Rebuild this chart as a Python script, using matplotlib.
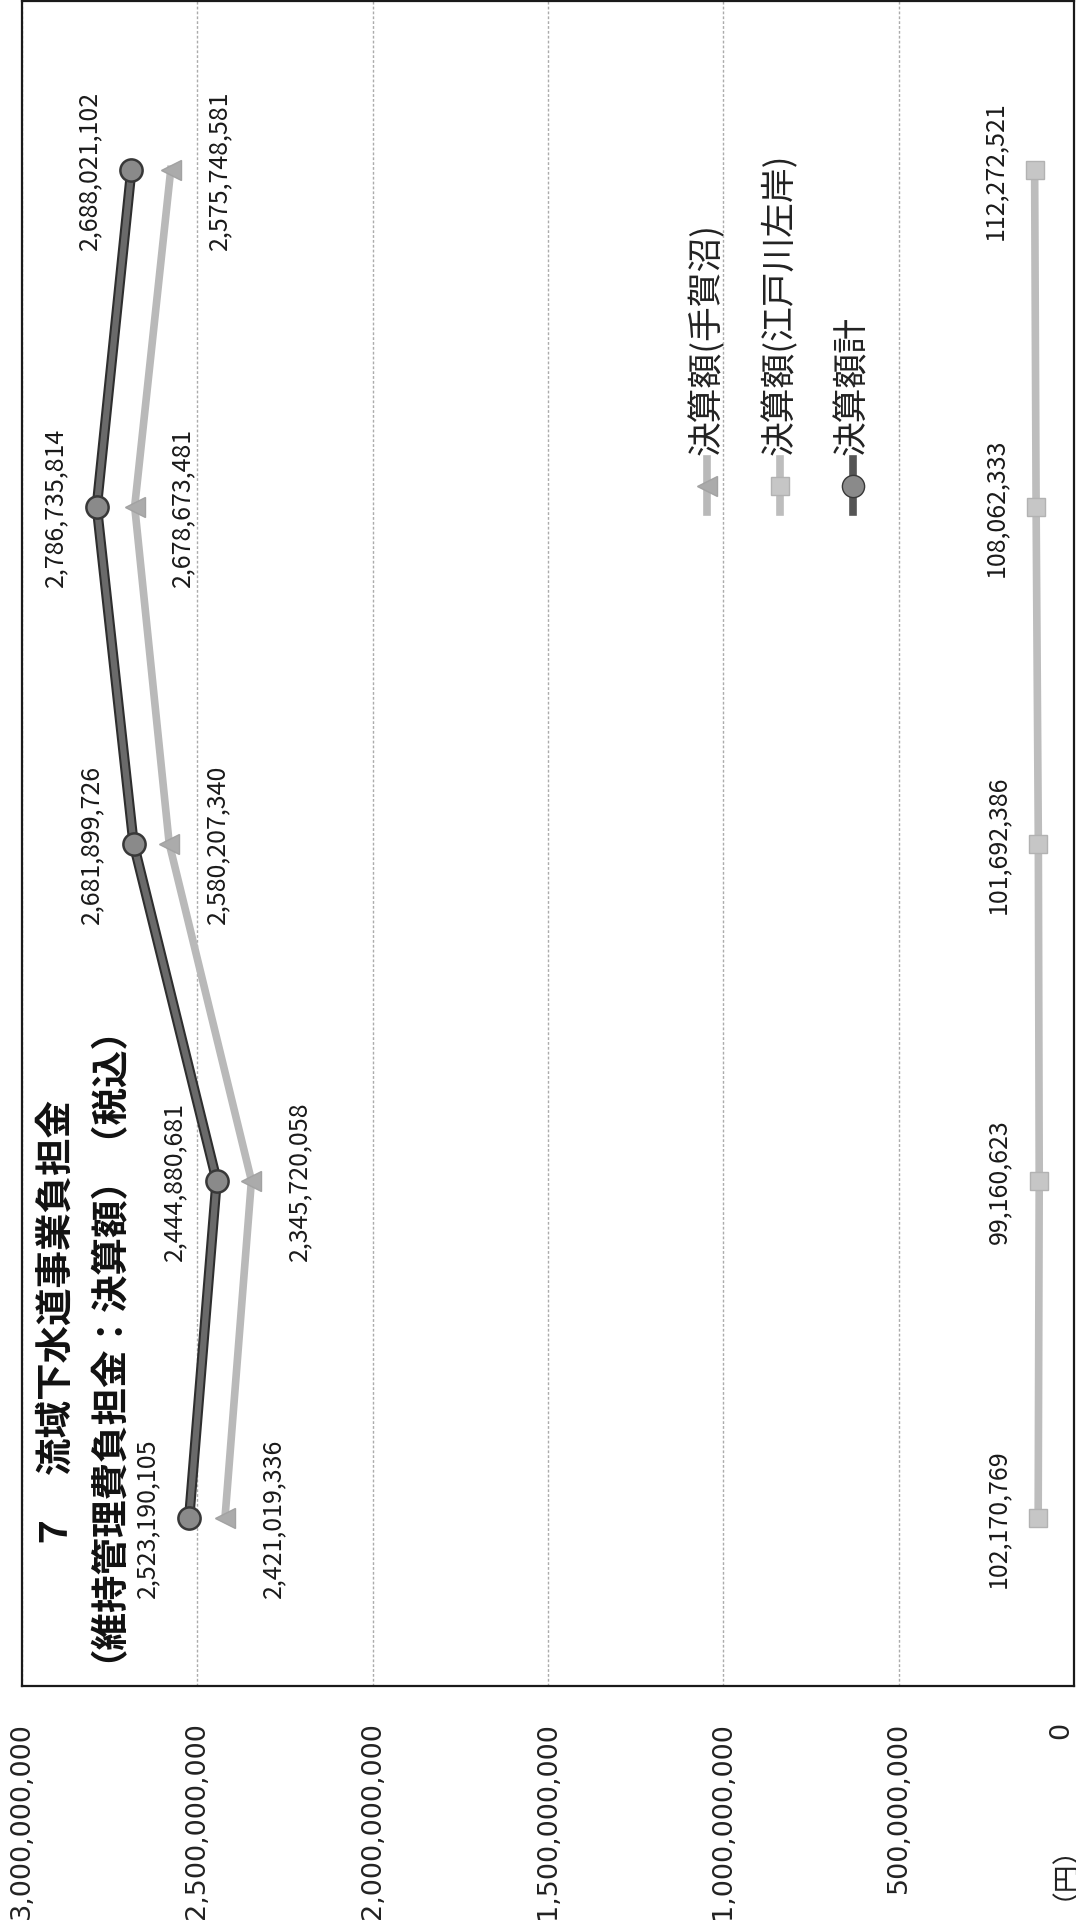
import matplotlib
matplotlib.use('Agg')
import matplotlib.pyplot as plt
import matplotlib.patheffects as pe
from matplotlib.lines import Line2D
import numpy as np

# 決算額 (円)
teganuma = [2421019336, 2345720058, 2580207340, 2678673481, 2575748581]
edogawa = [102170769, 99160623, 101692386, 108062333, 112272521]
total = [2523190105, 2444880681, 2681899726, 2786735814, 2688021102]

series_names = ['決算額(手賀沼)', '決算額(江戸川左岸)', '決算額計']
value_ticks = [0, 500000000, 1000000000, 1500000000, 2000000000, 2500000000, 3000000000]

title = '７　流域下水道事業負担金\n（維持管理費負担金：決算額）（税込）'
unit = '（円）'

jp = ['Noto Sans CJK JP', 'DejaVu Sans']

W, H = 1076, 1933
fig = plt.figure(figsize=(W / 100, H / 100), dpi=100)
fig.patch.set_facecolor('white')

# the chart is laid out on its side: values run right-to-left, periods bottom-to-top
ax = fig.add_axes([22 / W, 1 - 1687 / H, (1074 - 22) / W, (1687 - 2) / H])
ax.set_xlim(3000000000, 0)
ax.set_ylim(-0.5, 4.5)
ax.set_yticks([])
ax.set_xticks(value_ticks)
ax.set_xticklabels([f'{v:,}' for v in value_ticks], rotation=90,
                   fontsize=19.5, family='DejaVu Sans', color='#222222')
ax.tick_params(axis='x', length=0, pad=25)
# keep the zero label inside the page
ax.get_xticklabels()[0].set_ha('right')
ax.grid(axis='x', color='#ababab', lw=1.0, ls=(0, (2, 1.5)))
ax.set_axisbelow(True)
for s in ax.spines.values():
    s.set_color('#1a1a1a')
    s.set_linewidth(1.6)

pos = np.arange(len(total))

# 江戸川左岸
ax.plot(edogawa, pos, color='#bdbdbd', lw=5.5, marker='s', ms=13,
        mfc='#c6c6c6', mec='#b2b2b2', zorder=3)
# 手賀沼
ax.plot(teganuma, pos, color='#b9b9b9', lw=5.5, marker='<', ms=15,
        mfc='#ababab', mec='#a2a2a2', zorder=3)
# 計
ax.plot(total, pos, color='#6a6a6a', lw=4.5, zorder=4,
        path_effects=[pe.Stroke(linewidth=7.5, foreground='#2e2e2e'), pe.Normal()])
ax.plot(total, pos, ls='none', marker='o', ms=16, mfc='#8a8a8a',
        mec='#383838', mew=1.8, zorder=5)

lab = dict(textcoords='offset pixels', rotation=90, ha='center', va='center',
           fontsize=18, family=jp, color='#1a1a1a')
for i, v in enumerate(total):
    ax.annotate(f'{v:,}', (v, i), xytext=(-42, 0), **lab)
for i, v in enumerate(teganuma):
    ax.annotate(f'{v:,}', (v, i), xytext=(48, 0), **lab)
for i, v in enumerate(edogawa):
    ax.annotate(f'{v:,}', (v, i), xytext=(-40, 0), **lab)

# two-line title, lines centred on each other
fig.text(72 / W, 1 - 1325 / H, title, rotation=90, ha='center', va='center',
         multialignment='center', linespacing=0.75,
         fontsize=27, fontweight='bold', family=jp, color='#111111')

# unit label next to the zero tick
fig.text(1050 / W, 1 - 1858 / H, unit, rotation=90, ha='center', va='center',
         fontsize=20, family=jp, color='#222222')

# legend keys drawn sideways
key_style = [
    dict(color='#b9b9b9', marker='<', ms=15, mfc='#ababab', mec='#a2a2a2'),
    dict(color='#bdbdbd', marker='s', ms=13, mfc='#c6c6c6', mec='#b2b2b2'),
    dict(color='#555555', marker='o', ms=16, mfc='#8a8a8a', mec='#383838'),
]
key_x = [707, 780, 853]
for name, kx, st in zip(series_names, key_x, key_style):
    fig.add_artist(Line2D([kx / W, kx / W], [1 - 460 / H, 1 - 513 / H], lw=5.5,
                          transform=fig.transFigure, color=st['color']))
    fig.add_artist(Line2D([kx / W], [1 - 487 / H], ls='none', marker=st['marker'],
                          ms=st['ms'], mfc=st['mfc'], mec=st['mec'],
                          transform=fig.transFigure))
    fig.text(kx / W, 1 - 455 / H, name, rotation=90, ha='center', va='bottom',
             fontsize=25, family=jp, color='#222222')

fig.savefig('out.png', dpi=100)
